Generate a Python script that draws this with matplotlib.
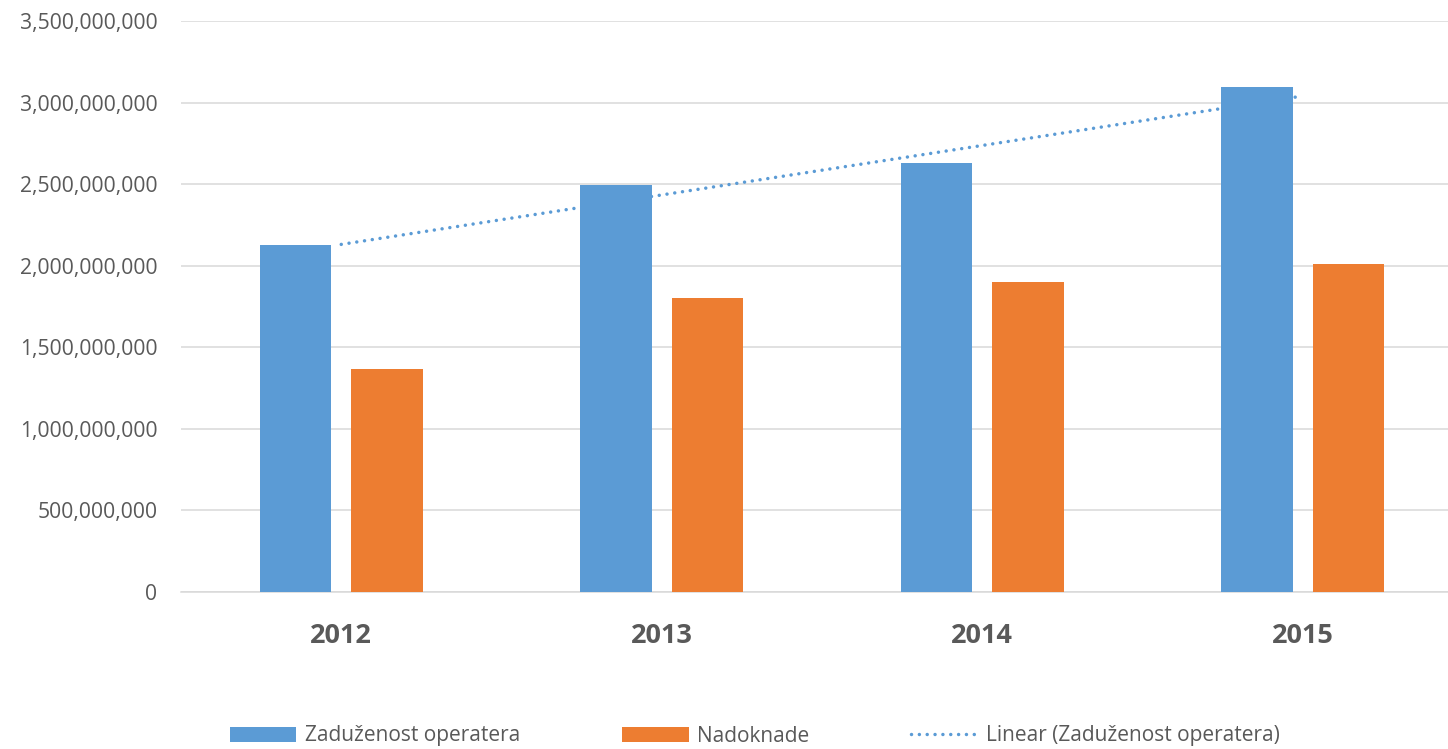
import numpy as np
import matplotlib
matplotlib.use("Agg")
import matplotlib.pyplot as plt
from matplotlib.ticker import FuncFormatter, MultipleLocator

years = ["2012", "2013", "2014", "2015"]
zaduzenost = [2.126e9, 2.496e9, 2.627e9, 3.093e9]
nadoknade = [1.366e9, 1.803e9, 1.901e9, 2.011e9]
series_names = ["Zaduženost operatera", "Nadoknade", "Linear (Zaduženost operatera)"]

blue = "#5B9BD5"
orange = "#ED7D31"
grid_c = "#D9D9D9"
text_c = "#595959"

plt.rcParams['font.family'] = ['Open Sans', 'DejaVu Sans']

fig = plt.figure(figsize=(14.48, 7.49), dpi=100)
ax = fig.add_axes([181/1448, (749-592)/749, 1282/1448, (592-21)/749])

x = np.arange(len(years))
w = 0.223
off = 0.1427
b1 = ax.bar(x - off, zaduzenost, w, color=blue, zorder=3, label=series_names[0])
b2 = ax.bar(x + off, nadoknade, w, color=orange, zorder=3, label=series_names[1])

coef = np.polyfit(x, zaduzenost, 1)
trend = np.polyval(coef, x)
ln, = ax.plot(x, trend, color=blue, lw=2.5, linestyle=(0, (0.01, 2.25)),
              dash_capstyle='round', zorder=2, label=series_names[2])

ax.set_xlim(-0.5, 3.5)
ax.set_ylim(0, 3.5e9)
ax.yaxis.set_major_locator(MultipleLocator(5e8))
ax.yaxis.set_major_formatter(FuncFormatter(lambda v, p: f"{int(round(v)):,}"))
ax.set_xticks(x)
ax.set_xticklabels(years, fontsize=19.5, fontweight='bold', color=text_c)
ax.tick_params(axis='x', length=0, pad=22)
ax.tick_params(axis='y', length=0, pad=17, labelsize=15.2, labelcolor=text_c)
ax.grid(axis='y', color=grid_c, lw=1.1, zorder=0)
ax.set_axisbelow(True)
for s in ['top', 'right', 'left']:
    ax.spines[s].set_visible(False)
ax.spines['bottom'].set_color(grid_c)
ax.spines['bottom'].set_linewidth(1.1)

leg = fig.legend([b1, b2, ln], series_names, loc='center',
                 bbox_to_anchor=(755/1448, (749-736)/749), ncol=3,
                 frameon=False, fontsize=15, handlelength=3.2, handleheight=0.7,
                 handletextpad=0.4, columnspacing=4.9, labelcolor=text_c)

fig.savefig("out.png", dpi=100)
